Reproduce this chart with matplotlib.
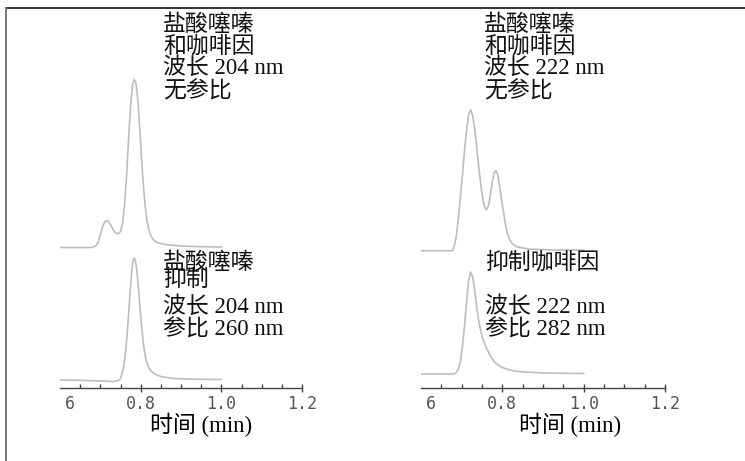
import matplotlib.pyplot as plt
import matplotlib.transforms as mtransforms
from matplotlib.lines import Line2D
from matplotlib.ticker import FixedLocator, MultipleLocator

plt.rcParams['font.family'] = ['Liberation Serif', 'Noto Sans CJK SC']

# 204 nm, no reference
t_204 = [0.600, 0.680, 0.690, 0.695, 0.700, 0.705, 0.710, 0.715, 0.720, 0.725,
         0.730, 0.735, 0.740, 0.745, 0.750, 0.755, 0.760, 0.765, 0.770, 0.775,
         0.780, 0.784, 0.788, 0.792, 0.796, 0.800, 0.805, 0.810, 0.815, 0.820,
         0.825, 0.830, 0.840, 0.860, 0.900, 0.950, 1.000]
s_204 = [0, 0, 2, 6, 13, 20, 25, 27, 26, 23,
         19, 16, 14, 14, 16, 24, 42, 72, 108, 142,
         163, 168, 165, 152, 130, 104, 72, 46, 28, 18,
         12, 8.5, 5, 3, 1.5, 0.8, 0.5]

# 204 nm, reference 260 nm
t_204_ref = [0.600, 0.650, 0.700, 0.730, 0.745, 0.750, 0.754, 0.758, 0.762, 0.766,
             0.770, 0.774, 0.778, 0.781, 0.784, 0.787, 0.790, 0.794, 0.798, 0.802,
             0.806, 0.810, 0.814, 0.818, 0.822, 0.826, 0.835, 0.850, 0.880, 0.930,
             1.000]
s_204_ref = [0, -0.3, -1, -1.5, -0.5, 1.5, 6.8, 14, 26, 43,
             65, 89, 109, 119, 122, 119, 111, 95, 74, 55,
             39, 27, 19, 14, 11, 9, 6, 3.5, 1.5, 0.8,
             0.5]

# 222 nm, no reference
t_222 = [0.600, 0.678, 0.682, 0.687, 0.692, 0.697, 0.702, 0.707, 0.712, 0.717,
         0.722, 0.727, 0.732, 0.737, 0.742, 0.747, 0.752, 0.757, 0.761, 0.766,
         0.771, 0.776, 0.780, 0.784, 0.788, 0.792, 0.797, 0.802, 0.807, 0.812,
         0.818, 0.825, 0.835, 0.847, 0.870, 0.920, 1.000]
s_222 = [0, 0, 5, 15, 33, 54, 76, 100, 121, 136,
         141, 135, 122, 104, 84, 66, 52, 43, 41, 45,
         57, 70, 78, 80, 77, 68, 54, 41, 28, 18,
         11, 7, 4, 3, 1.5, 0.8, 0.5]

# 222 nm, reference 282 nm
t_222_ref = [0.600, 0.680, 0.686, 0.692, 0.697, 0.702, 0.707, 0.712, 0.717, 0.722,
             0.727, 0.732, 0.737, 0.742, 0.747, 0.752, 0.757, 0.762, 0.767, 0.772,
             0.777, 0.782, 0.790, 0.800, 0.814, 0.830, 0.855, 0.900, 1.000]
s_222_ref = [0, 0, 1, 5, 13, 28, 48, 72, 93, 102,
             97, 84, 67, 53, 43, 35, 30, 25, 21, 17,
             14, 11.5, 9, 6.5, 4.5, 3, 2, 1, 0.5]

tick_pos = [0.6, 0.8, 1.0, 1.2]
tick_labels = ['6', '0.8', '1.0', '1.2']

text_left_top = ['盐酸噻嗪', '和咖啡因', '波长 204 nm', '无参比']
text_right_top = ['盐酸噻嗪', '和咖啡因', '波长 222 nm', '无参比']
text_left_bottom = ['盐酸噻嗪', '抑制', '波长 204 nm', '参比 260 nm']
text_right_bottom = ['抑制咖啡因', '波长 222 nm', '参比 282 nm']

W, H = 745, 461
fig = plt.figure(figsize=(W / 100, H / 100), dpi=100)
trace_color = '#bdbdbd'


def setup(ax, label_x):
    ax.set_xlim(0.6, 1.2)
    ax.set_ylim(0, 380)
    ax.patch.set_alpha(0)
    for side in ['left', 'right', 'top']:
        ax.spines[side].set_visible(False)
    ax.spines['bottom'].set_color('#444444')
    ax.spines['bottom'].set_linewidth(1.0)
    ax.yaxis.set_visible(False)
    ax.xaxis.set_major_locator(FixedLocator(tick_pos))
    ax.set_xticklabels(tick_labels, family='DejaVu Sans Mono', fontsize=12, color='#555555')
    ax.xaxis.set_minor_locator(MultipleLocator(0.05))
    ax.tick_params(axis='x', which='major', direction='inout', length=6, width=1,
                   color='#444444', pad=2)
    ax.tick_params(axis='x', which='minor', direction='in', length=3, width=1, color='#444444')
    first = ax.xaxis.get_major_ticks()[0]
    first.tick1line.set_visible(False)
    shift = mtransforms.ScaledTranslation(0.10, 0, fig.dpi_scale_trans)
    first.label1.set_transform(first.label1.get_transform() + shift)
    ax.set_xlabel('时间 (min)', fontsize=16.5)
    ax.xaxis.set_label_coords(label_x, -0.097)
    ax.xaxis.label.set_verticalalignment('center')


ax1 = fig.add_axes([60 / W, 1 - 388 / H, 242 / W, 380 / H])
ax2 = fig.add_axes([421 / W, 1 - 388 / H, 244 / W, 380 / H])
setup(ax1, 0.583)
setup(ax2, 0.611)

ax1.plot(t_204, [v + 140.5 for v in s_204], color=trace_color, lw=1.2)
ax1.plot(t_204_ref, [v + 8 for v in s_204_ref], color=trace_color, lw=1.2)
ax2.plot(t_222, [v + 137.3 for v in s_222], color=trace_color, lw=1.2)
ax2.plot(t_222_ref, [v + 14 for v in s_222_ref], color=trace_color, lw=1.2)


def put_lines(x, ys, lines):
    for y, s in zip(ys, lines):
        fig.text(x / W, 1 - y / H, s, fontsize=16.5, ha='left', va='center', color='#111111')


put_lines(163, [25.5, 47, 68.5, 91.5], text_left_top)
put_lines(484, [25.5, 47, 68.5, 91.5], text_right_top)
put_lines(163, [263, 280, 307, 330], text_left_bottom)
put_lines(485, [263, 307, 330], text_right_bottom)

# frame lines at top and left
fig.add_artist(Line2D([6.5 / W, 1], [1 - 8.5 / H, 1 - 8.5 / H], color='#333333', lw=1.4))
fig.add_artist(Line2D([6.5 / W, 6.5 / W], [0, 1 - 8.5 / H], color='#777777', lw=1.4))

fig.savefig('out.png', dpi=100)
